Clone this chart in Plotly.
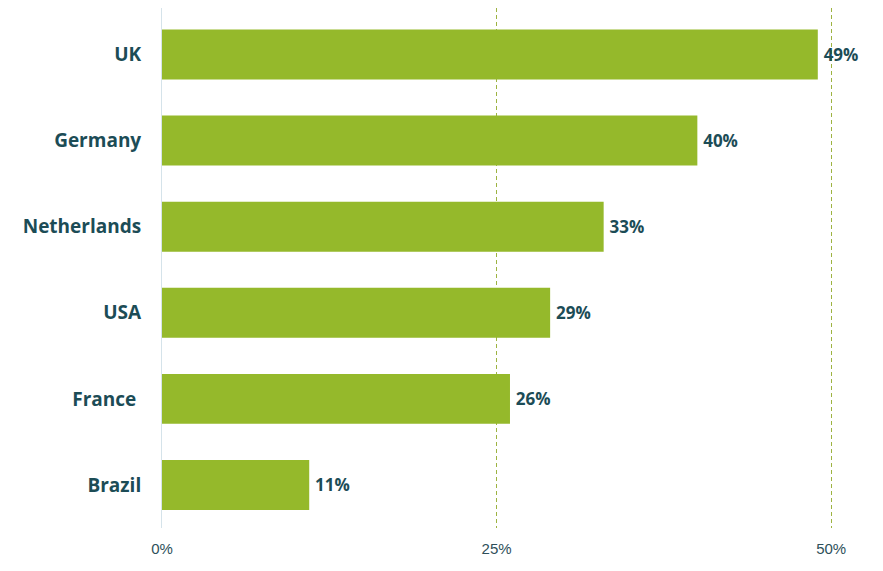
import plotly.graph_objects as go

countries = ["UK", "Germany", "Netherlands", "USA", "France ", "Brazil"]
values = [49, 40, 33, 29, 26, 11]
labels = ["49%", "40%", "33%", "29%", "26%", "11%"]
tick_vals = [0, 25, 50]
tick_text = ["0%", "25%", "50%"]

teal = "#1c4c56"
green = "#95b92b"

fig = go.Figure(go.Bar(
    x=values, y=countries, orientation="h",
    marker=dict(color=green, line=dict(width=0)),
    width=0.58,
    text=labels, texttemplate="\u2009%{text}", textposition="outside", cliponaxis=False,
    textfont=dict(family="'Open Sans', Lato, sans-serif", size=17, color=teal, weight="bold"),
))

fig.update_layout(
    width=883, height=571,
    margin=dict(l=154, r=21, t=0, b=51),
    plot_bgcolor="white", paper_bgcolor="white",
    showlegend=False,
)
fig.update_xaxes(
    range=[0, 52.9], tickvals=tick_vals, ticktext=tick_text,
    showgrid=True, gridcolor="#9db341", griddash="4px,3px", gridwidth=1,
    zeroline=False, showline=False,
    tickfont=dict(family="'Liberation Sans Narrow', 'Liberation Sans', sans-serif", size=15, color="#2e4f5a"),
    ticks="", ticklabelstandoff=10,
)
fig.update_yaxes(
    autorange=False, range=[5.5, -0.54],
    categoryorder="array", categoryarray=countries,
    showgrid=False, zeroline=False,
    showline=True, linecolor="#d5e3ea", linewidth=1,
    tickfont=dict(family="'Open Sans', Lato, sans-serif", size=19, color=teal, weight="bold"),
    ticks="", ticklabelstandoff=16,
)

fig.write_html("out.html")
